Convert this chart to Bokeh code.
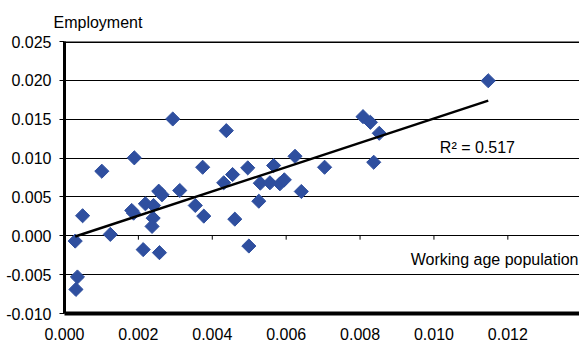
import numpy as np
from bokeh.plotting import figure
from bokeh.models import FixedTicker, PrintfTickFormatter, Label, Span, Range1d
from bokeh.embed import file_html
from bokeh.resources import INLINE

# ---- data ----
working_age = [0.00029, 0.00035, 0.00031, 0.00049, 0.00101, 0.00124, 0.00189, 0.00182,
               0.00187, 0.00213, 0.00219, 0.00241, 0.00240, 0.00237, 0.00257, 0.00255,
               0.00264, 0.00293, 0.00312, 0.00354, 0.00377, 0.00374, 0.00438, 0.00431,
               0.00455, 0.00461, 0.00496, 0.00499, 0.00526, 0.00530, 0.00556, 0.00566,
               0.00583, 0.00595, 0.00624, 0.00641, 0.00704, 0.00808, 0.00828, 0.00852,
               0.00837, 0.01147]
employment = [-0.00068, -0.00530, -0.00690, 0.00258, 0.00831, 0.00018, 0.01003, 0.00326,
              0.00291, -0.00178, 0.00412, 0.00390, 0.00227, 0.00121, -0.00217, 0.00574,
              0.00528, 0.01503, 0.00583, 0.00390, 0.00253, 0.00882, 0.01353, 0.00682,
              0.00788, 0.00214, 0.00874, -0.00132, 0.00445, 0.00677, 0.00682, 0.00904,
              0.00669, 0.00720, 0.01023, 0.00570, 0.00882, 0.01533, 0.01460, 0.01319,
              0.00946, 0.01995]
x_ticks = [0.000, 0.002, 0.004, 0.006, 0.008, 0.010, 0.012]
y_ticks = [-0.010, -0.005, 0.000, 0.005, 0.010, 0.015, 0.020, 0.025]
r2_text = "R\u00b2 = 0.517"
x_title = "Working age population"
y_title = "Employment"

FONT = "Liberation Sans"
FS = "16px"
BLUE = "#2F4F9F"

p = figure(width=579, height=347, output_backend="svg", toolbar_location=None,
           x_range=Range1d(0, 0.01394), y_range=Range1d(y_ticks[0], y_ticks[-1]),
           min_border_left=64, min_border_right=0, min_border_top=41, min_border_bottom=34,
           title=y_title)
p.background_fill_color = "white"
p.border_fill_color = "white"
p.outline_line_color = None

p.title.text_font = FONT
p.title.text_font_size = FS
p.title.text_font_style = "normal"
p.title.text_color = "black"
p.title.align = "left"
p.title.offset = -11
p.title.standoff = 22

p.xaxis.ticker = FixedTicker(ticks=x_ticks)
p.xaxis.formatter = PrintfTickFormatter(format="%.3f")
p.xaxis.major_tick_out = 0
p.xaxis.major_tick_in = 0
p.xaxis.minor_tick_out = 0
p.xaxis.minor_tick_in = 0
p.xaxis.axis_line_width = 4
p.xaxis.axis_line_color = "black"
p.xaxis.major_label_standoff = 14
p.xaxis.major_label_text_font = FONT
p.xaxis.major_label_text_font_size = FS
p.xaxis.major_label_text_color = "black"

p.yaxis.ticker = FixedTicker(ticks=y_ticks)
p.yaxis.formatter = PrintfTickFormatter(format="%.3f")
p.yaxis.major_tick_out = 5
p.yaxis.major_tick_in = 0
p.yaxis.minor_tick_out = 0
p.yaxis.minor_tick_in = 0
p.yaxis.major_tick_line_color = "black"
p.yaxis.axis_line_width = 3
p.yaxis.axis_line_color = "black"
p.yaxis.major_label_standoff = 8
p.yaxis.major_label_text_font = FONT
p.yaxis.major_label_text_font_size = FS
p.yaxis.major_label_text_color = "black"

p.xgrid.visible = False
p.ygrid.ticker = FixedTicker(ticks=y_ticks)
p.ygrid.grid_line_color = "black"
p.ygrid.grid_line_width = 1

p.add_layout(Span(location=y_ticks[-1], dimension="width", line_color="black", line_width=3))

# small tick marks on the zero line
p.segment(x0=x_ticks[1:], y0=0, x1=x_ticks[1:], y1=-0.0005, line_color="black", line_width=1)

p.scatter(working_age, employment, marker="square", angle=np.pi / 4, size=10,
          fill_color=BLUE, line_color=BLUE)

slope, intercept = np.polyfit(working_age, employment, 1)
xs = np.array([min(working_age), max(working_age)])
p.line(xs, slope * xs + intercept, line_color="black", line_width=2.5)

p.add_layout(Label(x=0.01016, y=0.0114, text=r2_text, text_baseline="alphabetic",
                   text_font=FONT, text_font_size=FS, text_color="black"))
p.add_layout(Label(x=0.00937, y=-0.00309, text=x_title, text_baseline="alphabetic",
                   text_font=FONT, text_font_size=FS, text_color="black"))

open("out.html", "w").write(file_html(p, INLINE))
